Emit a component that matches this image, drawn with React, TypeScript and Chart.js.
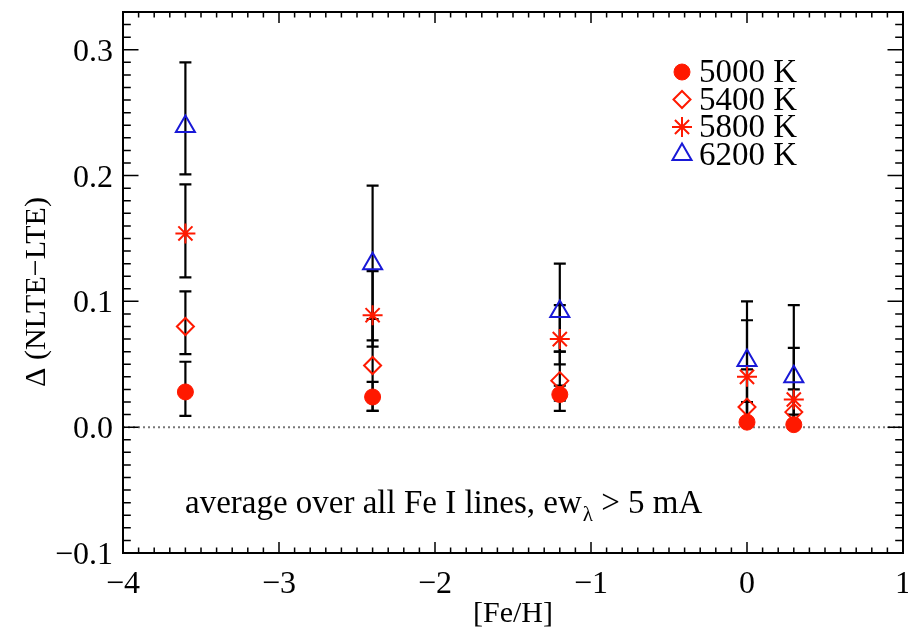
import React, { useEffect, useRef } from 'react';
import { Chart, registerables } from 'chart.js';
import { drawPoint } from 'chart.js/helpers';

Chart.register(...registerables);

// ---------- data ----------
const feH = [-3.6, -2.4, -1.2, 0.0, 0.3];

const delta5000 = [0.028, 0.024, 0.026, 0.004, 0.002];
const low5000 = [0.009, 0.013, 0.021, 0.001, 0.0];
const high5000 = [0.052, 0.036, 0.033, 0.020, 0.010];

const delta5400 = [0.080, 0.049, 0.037, 0.016, 0.012];
const low5400 = [0.058, 0.013, 0.013, 0.001, 0.0];
const high5400 = [0.108, 0.086, 0.060, 0.046, 0.030];

const delta5800 = [0.154, 0.089, 0.070, 0.040, 0.022];
const low5800 = [0.119, 0.064, 0.050, 0.001, 0.0];
const high5800 = [0.193, 0.124, 0.097, 0.085, 0.063];

const delta6200 = [0.239, 0.130, 0.092, 0.053, 0.040];
const low6200 = [0.201, 0.069, 0.060, 0.006, 0.0];
const high6200 = [0.290, 0.192, 0.130, 0.100, 0.097];

const seriesLabels = ['5000 K', '5400 K', '5800 K', '6200 K'];

const xRange = [-4, 1];
const yRange = [-0.1, 0.33];
const xTickValues = [-4, -3, -2, -1, 0, 1];
const xTickLabels = ['\u22124', '\u22123', '\u22122', '\u22121', '0', '1'];
const yTickValues = [-0.1, 0.0, 0.1, 0.2, 0.3];
const yTickLabels = ['\u22120.1', '0.0', '0.1', '0.2', '0.3'];
const xMinorStep = 0.1;
const yMinorStep = 0.01;

const xTitle = '[Fe/H]';
const yTitle = '\u0394 (NLTE\u2212LTE)';
const noteMain = 'average over all Fe I lines, ew';
const noteSub = '\u03bb';
const noteTail = ' > 5 mA';

// ---------- styles ----------
const RED = 'rgb(255,25,0)';
const BLUE = 'rgb(25,25,215)';
const SERIF = '"Liberation Serif", "Times New Roman", serif';

const series = [
  { label: seriesLabels[0], values: delta5000, low: low5000, high: high5000, pointStyle: 'circle', radius: 8, color: RED, fill: RED, bw: 1 },
  { label: seriesLabels[1], values: delta5400, low: low5400, high: high5400, pointStyle: 'rectRot', radius: 8.5, color: RED, fill: 'rgba(0,0,0,0)', bw: 2 },
  { label: seriesLabels[2], values: delta5800, low: low5800, high: high5800, pointStyle: 'star', radius: 10, color: RED, fill: 'rgba(0,0,0,0)', bw: 2 },
  { label: seriesLabels[3], values: delta6200, low: low6200, high: high6200, pointStyle: 'triangle', radius: 11, color: BLUE, fill: 'rgba(0,0,0,0)', bw: 2 },
];

const customPlugin = {
  id: 'custom',
  beforeDatasetsDraw(chart: any) {
    const { ctx, chartArea, scales } = chart;
    const { left, right } = chartArea;
    const xs = scales.x;
    const ys = scales.y;
    ctx.save();
    // dotted zero line
    ctx.setLineDash([2, 3]);
    ctx.strokeStyle = '#777777';
    ctx.lineWidth = 2;
    const y0 = ys.getPixelForValue(0);
    ctx.beginPath();
    ctx.moveTo(left, y0);
    ctx.lineTo(right, y0);
    ctx.stroke();
    ctx.setLineDash([]);
    // error bars
    ctx.strokeStyle = '#000';
    ctx.lineWidth = 2.2;
    series.forEach((s) => {
      feH.forEach((fx, i) => {
        const px = xs.getPixelForValue(fx);
        const pl = ys.getPixelForValue(s.low[i]);
        const ph = ys.getPixelForValue(s.high[i]);
        ctx.beginPath();
        ctx.moveTo(px, pl);
        ctx.lineTo(px, ph);
        ctx.moveTo(px - 6, pl);
        ctx.lineTo(px + 6, pl);
        ctx.moveTo(px - 6, ph);
        ctx.lineTo(px + 6, ph);
        ctx.stroke();
      });
    });
    ctx.restore();
  },
  afterDraw(chart: any) {
    const { ctx, chartArea, scales } = chart;
    const { left, right, top, bottom } = chartArea;
    const xs = scales.x;
    const ys = scales.y;
    ctx.save();
    ctx.strokeStyle = '#000';
    // ticks
    ctx.lineWidth = 1.5;
    const xMaj = 11, xMin = 5.5, yMaj = 15.5, yMin = 7.8;
    ctx.beginPath();
    const nx = Math.round((xRange[1] - xRange[0]) / xMinorStep);
    for (let k = 0; k <= nx; k++) {
      const v = xRange[0] + k * xMinorStep;
      const p = xs.getPixelForValue(v);
      const major = k % 10 === 0;
      const len = major ? xMaj : xMin;
      ctx.moveTo(p, bottom);
      ctx.lineTo(p, bottom - len);
      ctx.moveTo(p, top);
      ctx.lineTo(p, top + len);
    }
    const ny = Math.round((yRange[1] - yRange[0]) / yMinorStep);
    for (let k = 0; k <= ny; k++) {
      const v = yRange[0] + k * yMinorStep;
      const p = ys.getPixelForValue(v);
      const major = k % 10 === 0;
      const len = major ? yMaj : yMin;
      ctx.moveTo(left, p);
      ctx.lineTo(left + len, p);
      ctx.moveTo(right, p);
      ctx.lineTo(right - len, p);
    }
    ctx.stroke();
    // frame
    ctx.lineWidth = 2;
    ctx.strokeRect(left, top, right - left, bottom - top);

    // tick labels
    ctx.fillStyle = '#000';
    ctx.font = `32px ${SERIF}`;
    ctx.textBaseline = 'alphabetic';
    ctx.textAlign = 'right';
    yTickValues.forEach((v, i) => {
      ctx.fillText(yTickLabels[i], left - 10, ys.getPixelForValue(v) + 11);
    });
    ctx.textAlign = 'center';
    xTickValues.forEach((v, i) => {
      ctx.fillText(xTickLabels[i], xs.getPixelForValue(v), bottom + 40);
    });

    // axis titles
    ctx.font = `30px ${SERIF}`;
    ctx.textAlign = 'center';
    ctx.fillText(xTitle, (left + right) / 2, 622);
    ctx.save();
    ctx.translate(37, 292);
    ctx.rotate(-Math.PI / 2);
    ctx.textBaseline = 'middle';
    ctx.fillText(yTitle, 0, 0);
    ctx.restore();

    // legend
    const legX = 682;
    const legText = 699;
    const legBase = [82, 109.5, 137, 164.5];
    ctx.font = `33px ${SERIF}`;
    ctx.textAlign = 'left';
    ctx.textBaseline = 'alphabetic';
    series.forEach((s, i) => {
      ctx.save();
      ctx.fillStyle = s.fill;
      ctx.strokeStyle = s.color;
      ctx.lineWidth = s.bw;
      drawPoint(ctx, { pointStyle: s.pointStyle, rotation: 0, radius: s.radius, borderWidth: s.bw } as any, legX, legBase[i] - 10);
      ctx.restore();
      ctx.fillStyle = '#000';
      ctx.fillText(s.label, legText, legBase[i]);
    });

    // annotation
    let ax = 185;
    const ab = 513;
    ctx.font = `33px ${SERIF}`;
    ctx.fillText(noteMain, ax, ab);
    ax += ctx.measureText(noteMain).width;
    ctx.font = `21px ${SERIF}`;
    ctx.fillText(noteSub, ax + 1, ab + 8);
    ax += ctx.measureText(noteSub).width + 1;
    ctx.font = `33px ${SERIF}`;
    ctx.fillText(noteTail, ax, ab);
    ctx.restore();
  },
};

export default function App() {
  const ref = useRef<HTMLCanvasElement | null>(null);
  useEffect(() => {
    document.body.style.margin = '0';
    if (!ref.current) return;
    const chart = new Chart(ref.current, {
      type: 'scatter',
      data: {
        datasets: series.map((s) => ({
          label: s.label,
          data: feH.map((fx, i) => ({ x: fx, y: s.values[i] })),
          pointStyle: s.pointStyle as any,
          pointRadius: s.radius,
          pointHoverRadius: s.radius,
          pointBorderWidth: s.bw,
          borderColor: s.color,
          backgroundColor: s.fill,
          showLine: false,
        })),
      },
      options: {
        responsive: false,
        animation: false,
        events: [],
        layout: { autoPadding: false, padding: { left: 123, right: 5, top: 12, bottom: 78 } },
        plugins: { legend: { display: false }, tooltip: { enabled: false } },
        scales: {
          x: { type: 'linear', min: xRange[0], max: xRange[1], display: false },
          y: { type: 'linear', min: yRange[0], max: yRange[1], display: false },
        },
      },
      plugins: [customPlugin],
    });
    return () => chart.destroy();
  }, []);
  return (
    <div style={{ width: 908, height: 631 }}>
      <canvas ref={ref} width={908} height={631} style={{ display: 'block' }} />
    </div>
  );
}
